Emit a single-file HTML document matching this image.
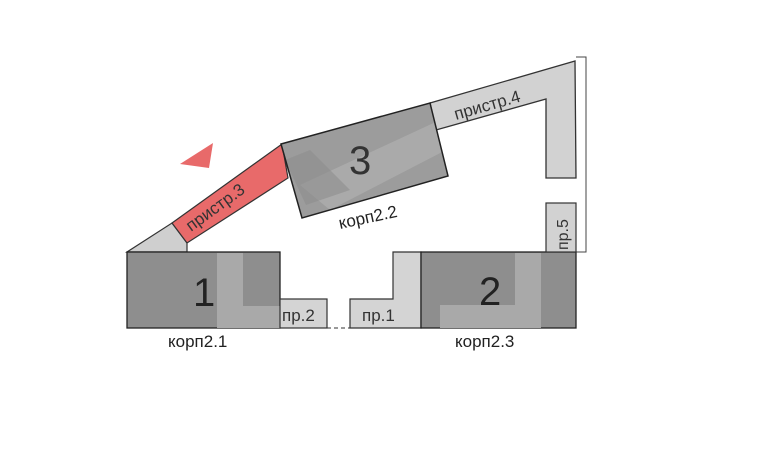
<!DOCTYPE html>
<html><head><meta charset="utf-8"><style>
html,body{margin:0;padding:0;background:#fff;}
svg{display:block;}
text{font-family:"Liberation Sans",sans-serif;}
</style></head><body>
<svg width="757" height="457" viewBox="0 0 757 457" xmlns="http://www.w3.org/2000/svg">
<defs><clipPath id="b3"><polygon points="281,144 430,103 448,176 302,218"/></clipPath></defs>
<polyline points="576,57 586,57 586,252 576,252" fill="none" stroke="#444" stroke-width="1"/>
<polygon points="430,103 575,61 576,178 546,178 546,99 436,130" fill="#d2d2d2" stroke="#333" stroke-width="1.3"/>
<text x="0" y="0" font-size="17" fill="#333" transform="translate(456,120) rotate(-16)">пристр.4</text>
<polygon points="127,252 172,223 187,243 187,252" fill="#cfcfcf" stroke="#333" stroke-width="1.2"/>
<polygon points="172,223 282,144 288,178 187,243" fill="#e86a6a" stroke="#333" stroke-width="1.2"/>
<text x="0" y="0" font-size="17" fill="#333" transform="translate(191,232) rotate(-36)">пристр.3</text>
<polygon points="180,164 213,143 209,168" fill="#e86a6a"/>
<polygon points="281,144 430,103 448,176 302,218" fill="#9c9c9c"/>
<g clip-path="url(#b3)">
<polygon points="300,185 440,120 446,150 330,210" fill="#b0b0b0" opacity="0.7"/>
<polygon points="285,160 310,150 350,190 306,205" fill="#8e8e8e" opacity="0.6"/>
</g>
<polygon points="281,144 430,103 448,176 302,218" fill="none" stroke="#222" stroke-width="1.5"/>
<text x="349" y="174" font-size="40" fill="#333">3</text>
<text x="0" y="0" font-size="17" fill="#222" transform="translate(340,229) rotate(-12)">корп2.2</text>
<rect x="127" y="252" width="153" height="76" fill="#8e8e8e" stroke="#222" stroke-width="1.3"/>
<rect x="217" y="253" width="26" height="75" fill="#a9a9a9"/>
<rect x="217" y="306" width="63" height="22" fill="#a9a9a9"/>
<text x="193" y="306" font-size="40" fill="#222">1</text>
<rect x="280" y="299" width="47" height="29" fill="#d4d4d4" stroke="#333" stroke-width="1.2"/>
<text x="282" y="321" font-size="17" fill="#333">пр.2</text>
<line x1="327" y1="328" x2="350" y2="328" stroke="#333" stroke-width="1" stroke-dasharray="4,3"/>
<polygon points="350,299 393,299 393,252 421,252 421,328 350,328" fill="#d4d4d4" stroke="#333" stroke-width="1.2"/>
<text x="362" y="321" font-size="17" fill="#333">пр.1</text>
<rect x="421" y="252" width="155" height="76" fill="#8e8e8e" stroke="#222" stroke-width="1.3"/>
<rect x="515" y="253" width="26" height="75" fill="#a9a9a9"/>
<rect x="440" y="305" width="101" height="23" fill="#a9a9a9"/>
<text x="479" y="305" font-size="40" fill="#222">2</text>
<rect x="546" y="203" width="30" height="49" fill="#d2d2d2" stroke="#333" stroke-width="1.2"/>
<text x="0" y="0" font-size="16" fill="#333" transform="translate(568,250) rotate(-90)">пр.5</text>
<text x="168" y="347" font-size="17" fill="#222">корп2.1</text>
<text x="455" y="347" font-size="17" fill="#222">корп2.3</text>
</svg>
</body></html>
